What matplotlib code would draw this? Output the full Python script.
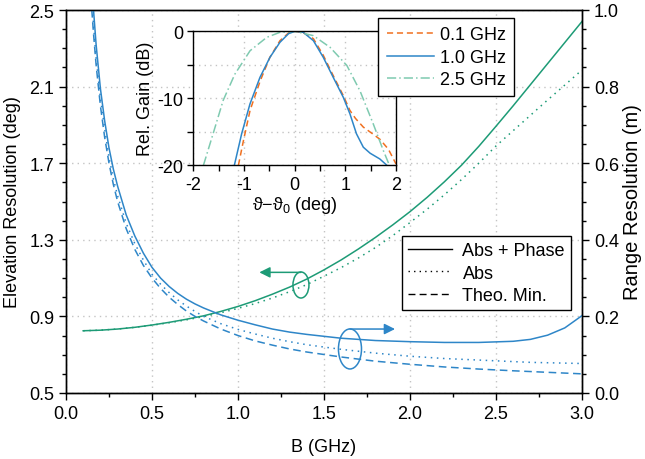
import matplotlib
matplotlib.use("Agg")
import matplotlib.pyplot as plt
from matplotlib.lines import Line2D
from matplotlib.patches import Ellipse
from matplotlib.ticker import MultipleLocator, FormatStrFormatter

plt.rcParams['font.family'] = ['Liberation Sans', 'DejaVu Sans']
plt.rcParams['font.size'] = 13
plt.rcParams['axes.unicode_minus'] = False
plt.rcParams['mathtext.fontset'] = 'custom'
plt.rcParams['mathtext.rm'] = 'Liberation Sans'
plt.rcParams['mathtext.default'] = 'regular'

# colours
blau = '#2e86c8'
gruen = '#1d9b76'
orange = '#f07020'
hellgruen = '#7fcab0'

# Elevation resolution (deg), left axis
B_el = [0.1, 0.2, 0.3, 0.4, 0.5, 0.6, 0.7, 0.8, 0.9, 1.0, 1.1, 1.2, 1.3, 1.4, 1.5,
        1.6, 1.7, 1.8, 1.9, 2.0, 2.1, 2.2, 2.3, 2.4, 2.5, 2.6, 2.7, 2.8, 2.9, 3.0]
el_absphase = [0.825, 0.828, 0.834, 0.843, 0.855, 0.869, 0.885, 0.903, 0.926, 0.952,
               0.982, 1.016, 1.053, 1.095, 1.143, 1.195, 1.252, 1.313, 1.378, 1.447,
               1.522, 1.603, 1.69, 1.788, 1.893, 2.0, 2.11, 2.22, 2.33, 2.44]
el_abs = [0.825, 0.828, 0.834, 0.843, 0.854, 0.867, 0.882, 0.899, 0.919, 0.942,
          0.967, 0.996, 1.029, 1.066, 1.11, 1.155, 1.205, 1.26, 1.322, 1.39,
          1.46, 1.535, 1.615, 1.7, 1.79, 1.87, 1.95, 2.03, 2.108, 2.187]

# Range resolution (m), right axis
B_rg = [0.15, 0.16, 0.175, 0.2, 0.225, 0.25, 0.275, 0.3, 0.35, 0.4, 0.45, 0.5, 0.55,
        0.6, 0.65, 0.7, 0.75, 0.8, 0.9, 1.0, 1.1, 1.2, 1.3, 1.4, 1.6, 1.8, 2.0, 2.2,
        2.4, 2.6, 2.7, 2.8, 2.9, 3.0]
rg_absphase = [1.06, 1.0, 0.91, 0.795, 0.71, 0.64, 0.585, 0.54, 0.465, 0.41, 0.365,
               0.328, 0.3, 0.278, 0.26, 0.245, 0.2326, 0.222, 0.204, 0.19, 0.178,
               0.167, 0.159, 0.153, 0.143, 0.137, 0.134, 0.132, 0.132, 0.135, 0.14,
               0.151, 0.17, 0.202]
rg_abs = [1.02, 0.96, 0.875, 0.77, 0.69, 0.615, 0.56, 0.515, 0.443, 0.39, 0.347,
          0.31, 0.284, 0.262, 0.243, 0.227, 0.213, 0.2, 0.181, 0.166, 0.154, 0.143,
          0.134, 0.126, 0.114, 0.104, 0.096, 0.09, 0.086, 0.082, 0.08, 0.079, 0.078,
          0.077]
rg_theo = [1.0, 0.938, 0.857, 0.75, 0.667, 0.6, 0.545, 0.5, 0.429, 0.375, 0.333,
           0.3, 0.273, 0.25, 0.231, 0.214, 0.2, 0.188, 0.167, 0.15, 0.136, 0.125,
           0.115, 0.107, 0.094, 0.083, 0.075, 0.068, 0.0625, 0.058, 0.056, 0.054,
           0.052, 0.05]

# Inset: beam patterns
th_01 = [-1.11, -1.01, -0.88, -0.68, -0.49, -0.29, -0.12, 0.0, 0.17, 0.37, 0.566, 0.76,
         0.96, 1.09, 1.2, 1.355, 1.52, 1.68, 1.85, 2.0]
g_01 = [-20, -16.3, -11.8, -7.4, -3.9, -1.4, -0.25, 0.0, -0.2, -1.1, -3.6, -6.6,
        -9.6, -11.8, -13.0, -14.3, -15.2, -16.1, -17.6, -19.8]
th_10 = [-1.19, -1.046, -0.882, -0.684, -0.487, -0.29, -0.12, 0.006, 0.17, 0.37, 0.566,
         0.763, 0.96, 1.09, 1.22, 1.355, 1.49, 1.68, 1.82]
g_10 = [-20, -15.3, -10.85, -6.87, -3.88, -1.64, -0.35, 0.0, -0.15, -1.4, -3.9,
        -6.9, -9.85, -12.3, -15.3, -17.3, -18.2, -19.05, -20]
th_25 = [-1.80, -1.61, -1.41, -1.18, -0.88, -0.55, -0.29, 0.0, 0.37, 0.70, 1.03,
         1.29, 1.55, 1.75, 1.87]
g_25 = [-20, -15.3, -10.3, -6.4, -2.9, -0.9, -0.15, 0.0, -0.65, -2.4, -5.1,
        -8.9, -13.8, -17.8, -20]

el_ticks = [0.5, 0.9, 1.3, 1.7, 2.1, 2.5]

fig = plt.figure(figsize=(6.45, 4.6), dpi=100)
ax = fig.add_axes([66 / 645, 1 - 394 / 460, 516 / 645, 383 / 460])
ax2 = ax.twinx()

gitter = dict(color='#c4c4c4', linestyle=(0, (1, 3)), linewidth=1.0)
ax.grid(True, which='major', **gitter)
ax.set_axisbelow(True)

ax.plot(B_el, el_absphase, color=gruen, lw=1.1)
ax.plot(B_el, el_abs, color=gruen, lw=1.1, linestyle=(0, (1, 3)))

ax2.plot(B_rg, rg_absphase, color=blau, lw=1.1)
ax2.plot(B_rg, rg_abs, color=blau, lw=1.1, linestyle=(0, (1, 3)))
ax2.plot(B_rg, rg_theo, color=blau, lw=1.1, linestyle=(0, (5, 3)))

ax.set_xlim(0, 3)
ax.set_ylim(0.5, 2.5)
ax2.set_ylim(0, 1)
ax.xaxis.set_major_locator(MultipleLocator(0.5))
ax.xaxis.set_minor_locator(MultipleLocator(0.25))
ax.xaxis.set_major_formatter(FormatStrFormatter('%.1f'))
ax.set_yticks(el_ticks)
ax.yaxis.set_minor_locator(MultipleLocator(0.1))
ax.yaxis.set_major_formatter(FormatStrFormatter('%.1f'))
ax2.yaxis.set_major_locator(MultipleLocator(0.2))
ax2.yaxis.set_minor_locator(MultipleLocator(0.05))
ax2.yaxis.set_major_formatter(FormatStrFormatter('%.1f'))
for a in (ax, ax2):
    a.tick_params(which='major', direction='out', length=5, width=1)
    a.tick_params(which='minor', direction='out', length=3, width=1)
    for s in a.spines.values():
        s.set_linewidth(1.0)

ax.set_xlabel('B (GHz)', labelpad=12)
ax.set_ylabel('Elevation Resolution (deg)', labelpad=6)
ax2.set_ylabel('Range Resolution (m)', labelpad=3, fontsize=14.5)

# ellipses and arrows
ax.add_patch(Ellipse((1.366, 1.064), 0.093, 0.136, fill=False, edgecolor=gruen, lw=1.1))
ax.annotate('', xy=(1.124, 1.130), xytext=(1.366, 1.130),
            arrowprops=dict(arrowstyle='-|>', color=gruen, lw=1.1, mutation_scale=16,
                            shrinkA=0, shrinkB=0))
ax.add_patch(Ellipse((1.651, 0.730), 0.134, 0.209, fill=False, edgecolor=blau, lw=1.1))
ax.annotate('', xy=(1.913, 0.834), xytext=(1.651, 0.834),
            arrowprops=dict(arrowstyle='-|>', color=blau, lw=1.1, mutation_scale=16,
                            shrinkA=0, shrinkB=0))

handles = [Line2D([], [], color='black', lw=1.0),
           Line2D([], [], color='black', lw=1.0, linestyle=(0, (1, 3))),
           Line2D([], [], color='black', lw=1.0, linestyle=(0, (5, 3)))]
leg = ax2.legend(handles, ['Abs + Phase', 'Abs', 'Theo. Min.'], loc='upper left',
                 bbox_to_anchor=(402 / 645, 1 - 237 / 460), bbox_transform=fig.transFigure,
                 fancybox=False, framealpha=1, edgecolor='black', handlelength=2.4,
                 handletextpad=0.6, labelspacing=0.3, borderpad=0.35, borderaxespad=0)
leg.get_frame().set_linewidth(1.0)

# inset
ins = fig.add_axes([193.3 / 645, 1 - 166.3 / 460, 202.7 / 645, 134 / 460])
ins.plot(th_01, g_01, color=orange, lw=1.1, linestyle=(0, (4, 2.5)), label='0.1 GHz')
ins.plot(th_10, g_10, color=blau, lw=1.1, label='1.0 GHz')
ins.plot(th_25, g_25, color=hellgruen, lw=1.1, linestyle=(0, (6, 2, 1, 2)), label='2.5 GHz')
ins.set_xlim(-2, 2)
ins.set_ylim(-20, 0)
ins.xaxis.set_major_locator(MultipleLocator(1))
ins.xaxis.set_minor_locator(MultipleLocator(0.5))
ins.yaxis.set_major_locator(MultipleLocator(10))
ins.yaxis.set_minor_locator(MultipleLocator(5))
ins.grid(True, which='major', axis='x', **gitter)
ins.grid(True, which='both', axis='y', **gitter)
ins.tick_params(which='both', direction='out', length=4, width=1)
ins.set_xlabel('ϑ−ϑ$_0$ (deg)', labelpad=1)
ins.set_ylabel('Rel. Gain (dB)', labelpad=2)
for s in ins.spines.values():
    s.set_linewidth(1.0)
leg2 = ins.legend(loc='upper right', bbox_to_anchor=(514 / 645, 1 - 19.3 / 460),
                  bbox_transform=fig.transFigure, fancybox=False, framealpha=1,
                  edgecolor='black', handlelength=2.6, handletextpad=0.35,
                  labelspacing=0.3, borderpad=0.45, borderaxespad=0)
leg2.get_frame().set_linewidth(1.0)

fig.savefig('out.png', dpi=100)
